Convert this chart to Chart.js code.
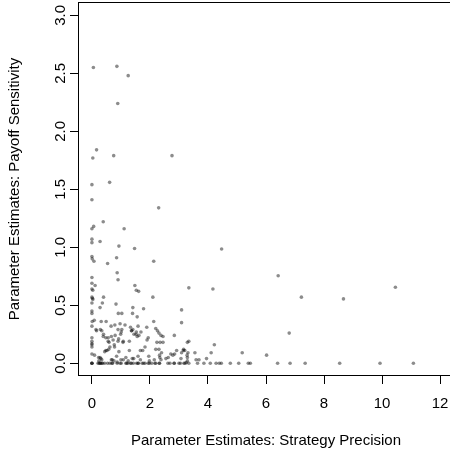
<!DOCTYPE html>
<html><head><meta charset="utf-8">
<script src="https://cdn.jsdelivr.net/npm/chart.js@4.4.0/dist/chart.umd.min.js"></script>
<style>
html,body{margin:0;padding:0;overflow:hidden;background:#fff;width:450px;height:454px}
#wrap{position:absolute;left:0;top:0;width:456px;height:454px}
</style>
</head><body><div id="wrap"><canvas id="c" width="456" height="454"></canvas></div>
<script>
// Axis ticks
const xTicks = [0, 2, 4, 6, 8, 10, 12];
const yTicks = [0, 0.5, 1.0, 1.5, 2.0, 2.5, 3.0];
const xTitle = "Parameter Estimates: Strategy Precision";
const yTitle = "Parameter Estimates: Payoff Sensitivity";

// Parameter estimates (Strategy Precision = x, Payoff Sensitivity = y), grouped
const upperX = [0.05,0.86,1.25,0.89,0.16,0.03,0.75,2.76,0,0.61,0,2.3,0.39,0.06,0,1.11,0,0,0.28,0.93,1.47,4.47];
const upperY = [2.55,2.56,2.48,2.24,1.84,1.77,1.79,1.79,1.54,1.56,1.41,1.34,1.22,1.18,1.16,1.16,1.07,1.04,1.05,1.01,0.99,0.985];

const midX = [0,0.01,0.07,0.85,0.54,2.13,0.87,0.9,0,0,0.11,0,0.03,1.48,1.53,1.61,3.34,4.17,6.42,7.22,8.67,10.46];
const midY = [0.92,0.90,0.88,0.91,0.86,0.88,0.78,0.72,0.74,0.69,0.67,0.64,0.63,0.67,0.63,0.62,0.65,0.64,0.755,0.57,0.555,0.655];

const mid2X = [0,0.02,0.03,0.4,0.36,0,0.28,0.83,2.1,0,0,0.91,1.03,1.41,1.4,1.56,1.78,3.09,3.09];
const mid2Y = [0.57,0.56,0.55,0.57,0.52,0.52,0.48,0.51,0.57,0.45,0.43,0.43,0.43,0.48,0.43,0.40,0.47,0.46,0.35];

const low1X = [0.01,0.08,0.49,0.66,0.79,1.14,2.13,0,0.14,0.34,1.03,1.33,1.41,1.36,1.59,1.89,2.2,2.26,2.31,2.38,2.45,6.8];
const low1Y = [0.36,0.37,0.36,0.32,0.33,0.33,0.36,0.32,0.29,0.28,0.29,0.31,0.29,0.28,0.32,0.31,0.30,0.28,0.26,0.24,0.23,0.26];

const low2X = [0.39,0.56,0.99,0,1.45,1.52,1.69,1.62,1.56,1.94,1.9,2.84,0.32,0.97];
const low2Y = [0.23,0.22,0.25,0.22,0.25,0.25,0.27,0.24,0.23,0.22,0.2,0.24,0.36,0.34];

const low3X = [0,0,0,0,0.73,0.92,1.08,0.59,1.29,2.24,2.35,2.45,1.83,3.29,3.34,4.22,3.16];
const low3Y = [0.19,0.17,0.16,0.14,0.20,0.21,0.19,0.18,0.19,0.18,0.18,0.18,0.14,0.18,0.19,0.16,0.12];

const low4X = [0.48,0.58,0.62,1.29,1.67,1.75,2.2,2.31,3.2,3.55,4.11,5.18,6.02,2.72,2.79,2.85,2.92,3.09,3.15,3.28,3.31,2.4,2.33];
const low4Y = [0.11,0.12,0.14,0.11,0.11,0.11,0.12,0.12,0.11,0.09,0.09,0.09,0.07,0.08,0.07,0.08,0.11,0.09,0.11,0.07,0.09,0.09,0.07];

const low5X = [2.38,2.55,2.63,0,0.09,0.23,0.31,0.67,0.85,1.0,1.25,1.44,1.59,1.67,1.96,1.98,2.15,2.34,3.07,3.29,3.59,3.69,3.95,3.29,3.25];
const low5Y = [0.03,0.04,0.05,0.08,0.07,0.05,0.04,0.03,0.06,0.03,0.02,0.04,0.06,0.03,0.06,0.02,0.03,0.05,0.04,0.05,0.03,0.03,0.04,0.02,0.005];

const low6X = [0.44,0.52,0.93,0.77,0.78,0.56,0.9,1.07,0.67,0.8,0.48,0.4,0.16,0.29,0.9,1.01,1.37,1.53,0.28,0.34,0.24,0.7,0.76,0.87,1.08,1.17,1.39];
const low6Y = [0.10,0.11,0.10,0.16,0.14,0.19,0.19,0.18,0.23,0.24,0.22,0.25,0.28,0.29,0.29,0.27,0.28,0.27,0.05,0.03,0.02,0.03,0.02,0.01,0.03,0.05,0.04];

// Estimates with Payoff Sensitivity = 0
const zeroX = [0,0,0,0.21,0.25,0.28,0.3,0.34,0.37,0.44,0.54,0.62,0.69,0.71,0.87,0.97,1.01,1.17,1.2,1.24,1.33,1.36,1.43,1.54,1.59,1.6,1.73,1.78,1.83,1.94,1.98,2.06,2.17,2.2,2.32,2.33,2.62,2.69,2.83,2.84,3.0,3.05,3.17,3.21,3.34,3.64,3.86,4.08,4.28,4.39,4.46,4.77,5.06,5.39,5.46,6.4,6.83,7.35,8.54,9.93,11.08];

const groupsX = [upperX, midX, mid2X, low1X, low2X, low3X, low4X, low5X, low6X, zeroX];
const groupsY = [upperY, midY, mid2Y, low1Y, low2Y, low3Y, low4Y, low5Y, low6Y, zeroX.map(() => 0)];
const points = [];
groupsX.forEach((gx, gi) => gx.forEach((xv, i) => points.push({x: xv, y: groupsY[gi][i]})));

const FONT = '"Liberation Sans", Arial, Helvetica, sans-serif';

const rPlot = {
  id: 'rPlot',
  afterDraw(chart) {
    const ctx = chart.ctx, a = chart.chartArea, ys = chart.scales.y;
    ctx.save();
    ctx.strokeStyle = '#000';
    ctx.lineWidth = 1;
    ctx.strokeRect(Math.round(a.left) + 0.5, Math.round(a.top) + 0.5,
                   Math.round(a.right - a.left), Math.round(a.bottom - a.top) - 1);
    ctx.fillStyle = '#000';
    ctx.font = '15px ' + FONT;
    ctx.textAlign = 'center';
    ctx.textBaseline = 'middle';
    yTicks.forEach(v => {
      const py = ys.getPixelForValue(v);
      ctx.save();
      ctx.translate(61, py);
      ctx.rotate(-Math.PI / 2);
      ctx.fillText(v.toFixed(1), 0, 0);
      ctx.restore();
    });
    // axis titles
    ctx.fillText(xTitle, (a.left + a.right) / 2, 441);
    ctx.save();
    ctx.translate(15, (a.top + a.bottom) / 2);
    ctx.rotate(-Math.PI / 2);
    ctx.fillText(yTitle, 0, 0);
    ctx.restore();
    ctx.restore();
  }
};

new Chart(document.getElementById('c'), {
  type: 'scatter',
  data: {
    datasets: [{
      data: points,
      pointRadius: 1.8,
      pointHoverRadius: 1.8,
      pointBorderWidth: 0,
      pointBackgroundColor: 'rgba(0,0,0,0.45)',
      pointBorderColor: 'rgba(0,0,0,0)'
    }]
  },
  options: {
    responsive: false,
    animation: false,
    events: [],
    layout: {padding: {top: 2, right: 2, left: 0, bottom: 0}},
    plugins: {legend: {display: false}, tooltip: {enabled: false}},
    scales: {
      x: {
        type: 'linear',
        min: -0.48, max: 12.48,
        afterBuildTicks: s => { s.ticks = xTicks.map(v => ({value: v})); },
        afterFit: s => { s.height = 78; s.paddingLeft = 0; s.paddingRight = 0; },
        border: {display: false},
        grid: {drawOnChartArea: false, drawTicks: true, tickLength: 8, color: '#000', lineWidth: 1},
        ticks: {color: '#000', font: {family: FONT, size: 15}, padding: 11, maxRotation: 0, minRotation: 0,
                callback: v => String(v)}
      },
      y: {
        type: 'linear',
        min: -0.11, max: 3.115,
        afterBuildTicks: s => { s.ticks = yTicks.map(v => ({value: v})); },
        afterFit: s => { s.width = 78; s.paddingTop = 0; s.paddingBottom = 0; },
        border: {display: false},
        grid: {drawOnChartArea: false, drawTicks: true, tickLength: 8, color: '#000', lineWidth: 1},
        ticks: {display: false}
      }
    }
  },
  plugins: [rPlot]
});
</script></body></html>
